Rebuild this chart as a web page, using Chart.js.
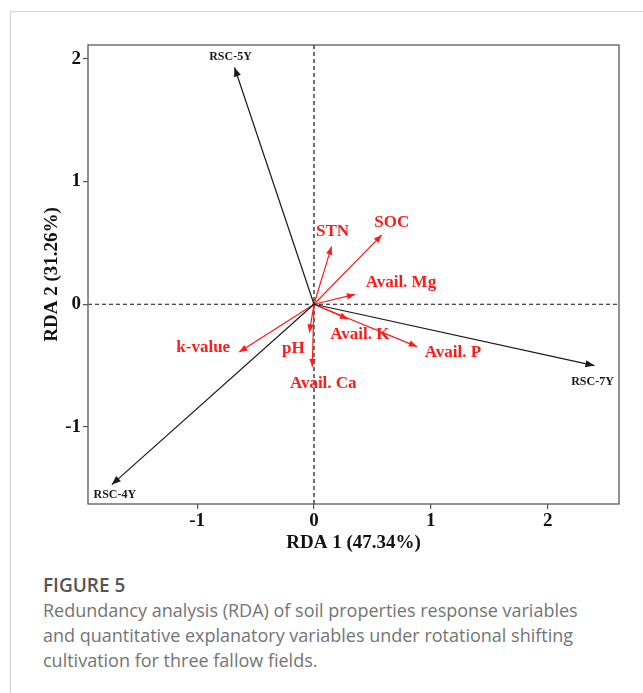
<!DOCTYPE html>
<html>
<head>
<meta charset="utf-8">
<script src="https://cdn.jsdelivr.net/npm/chart.js@4/dist/chart.umd.min.js"></script>
<style>
  html, body { margin: 0; padding: 0; background: #fff; }
  body { width: 643px; height: 693px; position: relative; overflow: hidden; }
  #frame { position: absolute; left: 10px; top: 11px; right: -2px; bottom: -2px;
           border-top: 1.5px solid #d2d2d2; border-left: 1.5px solid #d2d2d2; }
  #plot { position: absolute; left: 0; top: 0; width: 643px; height: 560px; }
  #caption { position: absolute; left: 43px; top: 573px; width: 600px; white-space: nowrap;
             font-family: "Open Sans", sans-serif; color: #747474; font-size: 18px; line-height: 25px; }
  #caption .fig { color: #555; font-size: 19px; font-weight: 600; }
</style>
</head>
<body>
<div id="frame"></div>
<div id="plot"><canvas id="rda" width="643" height="560"></canvas></div>
<div id="caption">
  <div class="fig">FIGURE 5</div>
  <div>Redundancy analysis (RDA) of soil properties response variables<br>and quantitative explanatory variables under rotational shifting<br>cultivation for three fallow fields.</div>
</div>
<script>
// Sample scores (black arrows)
const siteNames = ['RSC-5Y', 'RSC-7Y', 'RSC-4Y'];
const siteRDA1 = [-0.68, 2.40, -1.73];
const siteRDA2 = [1.93, -0.50, -1.47];

// Soil property loadings (red arrows)
const soilVars = ['STN', 'SOC', 'Avail. Mg', 'Avail. K', 'Avail. P', 'Avail. Ca', 'pH', 'k-value'];
const soilRDA1 = [0.15, 0.58, 0.35, 0.29, 0.88, -0.015, -0.04, -0.64];
const soilRDA2 = [0.47, 0.565, 0.08, -0.12, -0.345, -0.51, -0.23, -0.39];

// Axis ticks and titles
const axisTicks = [-1, 0, 1, 2];
const xTitle = 'RDA 1 (47.34%)';
const yTitle = 'RDA 2 (31.26%)';

// Label placement (pixel offset from arrow tip)
const siteLabelOffset = [[-4, -11], [-2, 16], [3, 10]];
const soilLabelOffset = [[1, -15], [10, -12], [46, -12], [12, 16], [36, 6], [11, 17], [-16, 16], [-36, -4]];

const SERIF = '"Liberation Serif", "Times New Roman", serif';
const RED = '#ff1a1a';

const datasets = [];
siteNames.forEach((n, i) => datasets.push({
  label: n, kind: 'site', idx: i,
  data: [{ x: 0, y: 0 }, { x: siteRDA1[i], y: siteRDA2[i] }],
  showLine: true, borderColor: '#1a1a1a', borderWidth: 1.2, pointRadius: 0
}));
soilVars.forEach((n, i) => datasets.push({
  label: n, kind: 'soil', idx: i,
  data: [{ x: 0, y: 0 }, { x: soilRDA1[i], y: soilRDA2[i] }],
  showLine: true, borderColor: RED, borderWidth: 1.2, pointRadius: 0
}));

const biplotDecor = {
  id: 'biplotDecor',
  beforeDatasetsDraw(chart) {
    const { ctx, chartArea: a, scales: { x, y } } = chart;
    ctx.save();
    ctx.strokeStyle = '#111';
    ctx.lineWidth = 1.2;
    ctx.setLineDash([4, 3]);
    const x0 = x.getPixelForValue(0), y0 = y.getPixelForValue(0);
    ctx.beginPath();
    ctx.moveTo(x0, a.top); ctx.lineTo(x0, a.bottom);
    ctx.moveTo(a.left, y0); ctx.lineTo(a.right, y0);
    ctx.stroke();
    ctx.restore();
  },
  afterDatasetsDraw(chart) {
    const { ctx } = chart;
    ctx.save();
    chart.data.datasets.forEach((ds, di) => {
      const pts = chart.getDatasetMeta(di).data;
      const p0 = pts[0], p1 = pts[1];
      const ang = Math.atan2(p1.y - p0.y, p1.x - p0.x);
      const site = ds.kind === 'site';
      const len = site ? 9 : 8, half = site ? 3.6 : 3.2;
      ctx.fillStyle = ds.borderColor;
      ctx.beginPath();
      ctx.moveTo(p1.x, p1.y);
      ctx.lineTo(p1.x - len * Math.cos(ang) + half * Math.sin(ang), p1.y - len * Math.sin(ang) - half * Math.cos(ang));
      ctx.lineTo(p1.x - len * Math.cos(ang) - half * Math.sin(ang), p1.y - len * Math.sin(ang) + half * Math.cos(ang));
      ctx.closePath();
      ctx.fill();
      const off = site ? siteLabelOffset[ds.idx] : soilLabelOffset[ds.idx];
      ctx.font = site ? 'bold 12px ' + SERIF : 'bold 17px ' + SERIF;
      ctx.textAlign = 'center';
      ctx.textBaseline = 'middle';
      ctx.fillText(ds.label, p1.x + off[0], p1.y + off[1]);
    });
    ctx.restore();
  },
  afterDraw(chart) {
    const { ctx, chartArea: a } = chart;
    ctx.save();
    ctx.strokeStyle = '#5a5a5a';
    ctx.lineWidth = 1.3;
    ctx.strokeRect(a.left, a.top, a.right - a.left, a.bottom - a.top);
    ctx.restore();
  }
};

const tickSetup = s => { s.ticks = axisTicks.map(v => ({ value: v })); };

new Chart(document.getElementById('rda'), {
  type: 'scatter',
  data: { datasets },
  options: {
    responsive: false,
    animation: false,
    events: [],
    layout: { padding: { left: 0, top: 45, right: 24, bottom: 6 } },
    plugins: { legend: { display: false }, tooltip: { enabled: false } },
    scales: {
      x: {
        type: 'linear', min: -1.934, max: 2.61,
        afterBuildTicks: tickSetup,
        afterFit: s => { s.height = 50; },
        grid: { drawOnChartArea: false, drawTicks: true, tickLength: 5, color: '#555', lineWidth: 1.2 },
        border: { display: false },
        ticks: { color: '#111', padding: 1, font: { family: SERIF, size: 19, weight: 'bold' },
                 callback: v => String(v) },
        title: { display: true, text: xTitle, color: '#111', padding: { top: 0, bottom: 1 },
                 font: { family: SERIF, size: 19, weight: 'bold', lineHeight: 1 } }
      },
      y: {
        type: 'linear', min: -1.628, max: 2.113,
        afterBuildTicks: tickSetup,
        afterFit: s => { s.width = 88; },
        grid: { drawOnChartArea: false, drawTicks: true, tickLength: 5, color: '#555', lineWidth: 1.2 },
        border: { display: false },
        ticks: { color: '#111', padding: 2, font: { family: SERIF, size: 19, weight: 'bold' },
                 callback: v => String(v) },
        title: { display: true, text: yTitle, color: '#111', padding: { top: 43, bottom: 0 },
                 font: { family: SERIF, size: 19, weight: 'bold', lineHeight: 1 } }
      }
    }
  },
  plugins: [biplotDecor]
});
</script>
</body>
</html>
